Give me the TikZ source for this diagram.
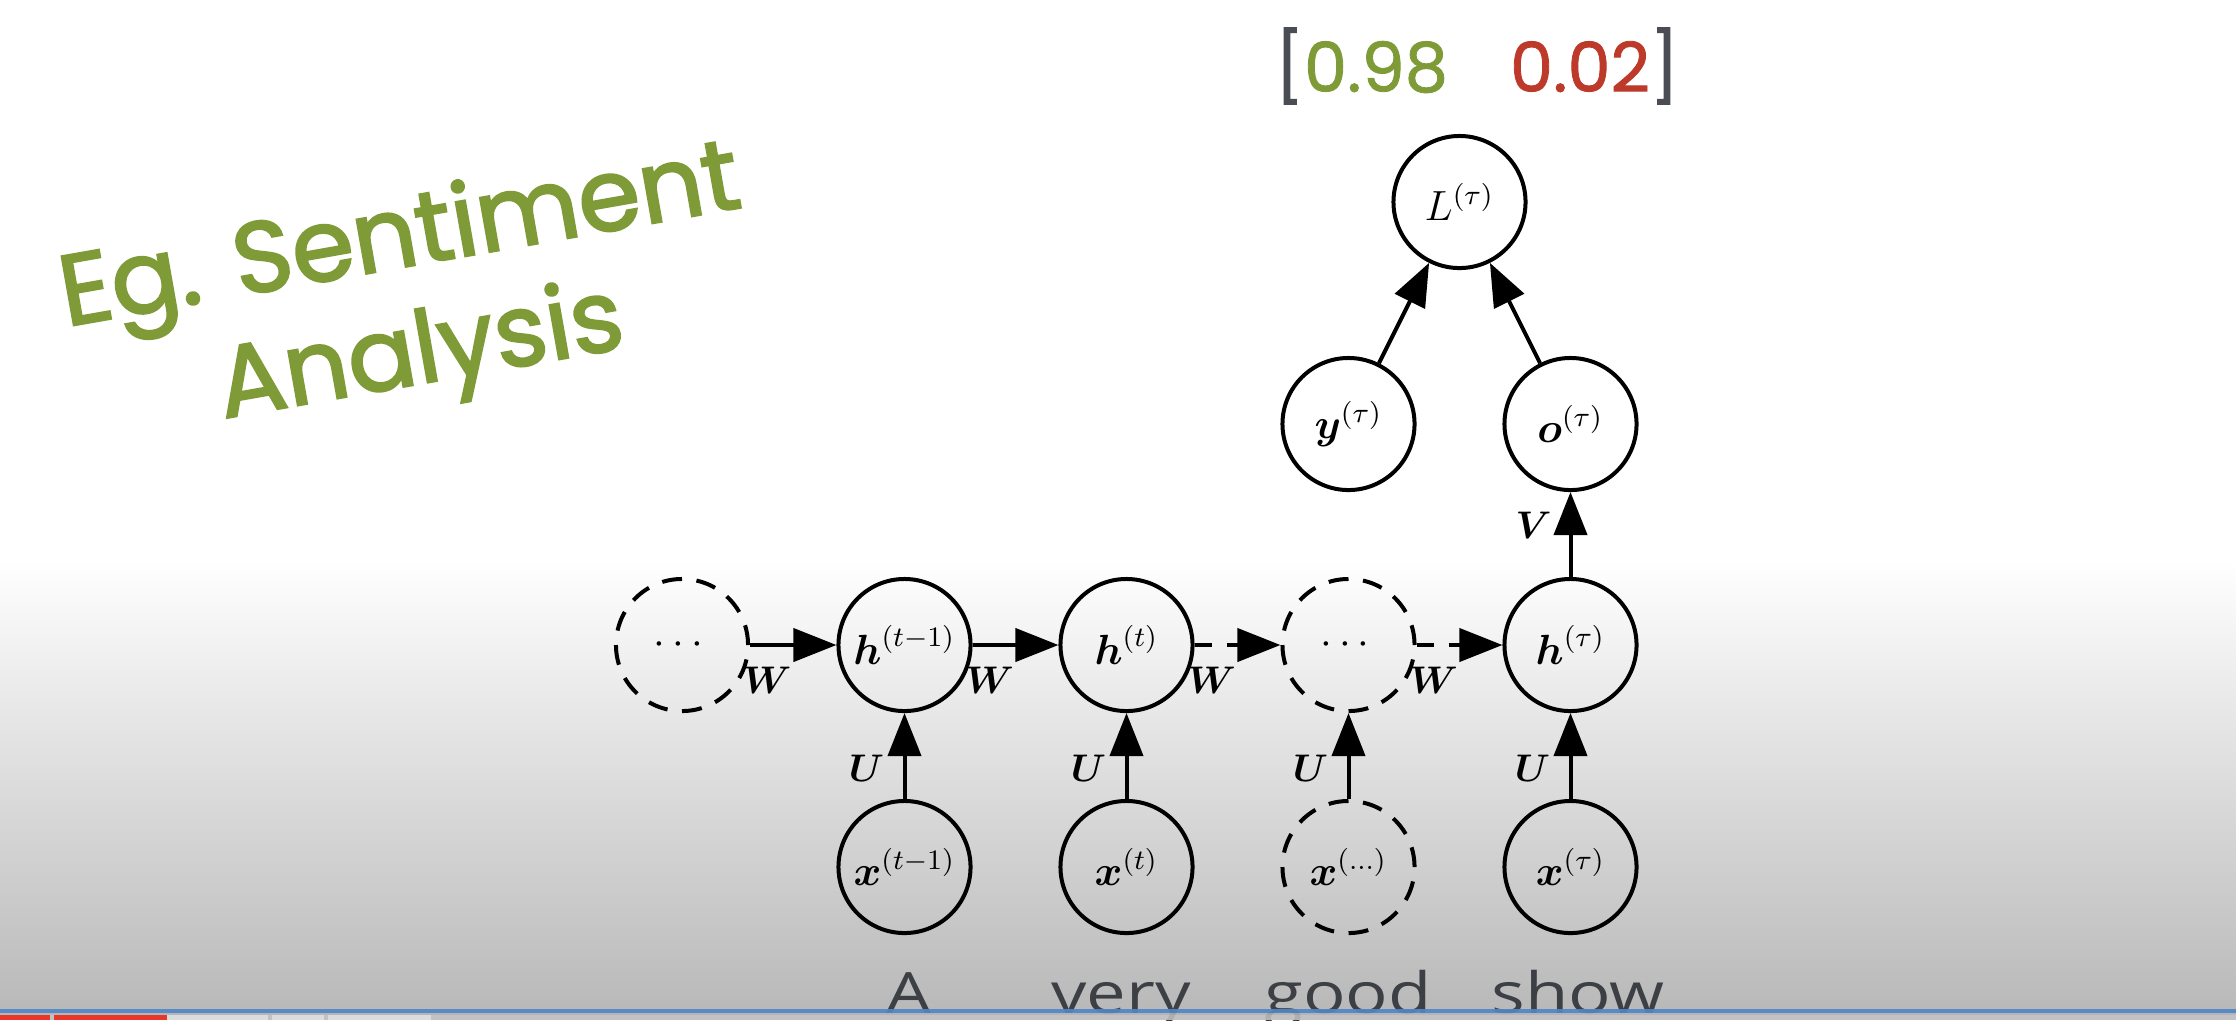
\documentclass[tikz,border=0pt]{standalone}
\usepackage{amsmath}
\usepackage{fontspec}
\newfontfamily\poppfont{Poppins}[FakeBold=2.2]
\newfontfamily\poppnum{Poppins}[FakeBold=1.2]
\newfontfamily\opensfont{Open Sans}
\usetikzlibrary{arrows.meta}
\definecolor{egreen}{HTML}{7E9B38}
\definecolor{ered}{HTML}{BD3A2A}
\definecolor{egray}{HTML}{4A4E54}
\definecolor{wordgray}{HTML}{3C3F44}
\definecolor{bgbot}{HTML}{B9B9B9}
\definecolor{stripblue}{HTML}{5087C7}
\definecolor{stripgray}{HTML}{B5B5B5}
\definecolor{stripbg}{HTML}{C4C4C4}
\definecolor{stripred}{HTML}{E8372A}
\definecolor{striplight}{HTML}{DCDCDC}
\begin{document}
\begin{tikzpicture}[x=0.01cm, y=-0.01cm,
  nd/.style={circle, draw, line width=0.04cm, minimum size=1.32cm, inner sep=0pt,
             font=\fontsize{12}{14}\selectfont},
  dnd/.style={nd, dash pattern=on 0.2cm off 0.1456cm},
  arr/.style={-{Triangle[length=0.43cm,width=0.33cm]}, line width=0.04cm},
  darr/.style={arr, dash pattern=on 0.17cm off 0.15cm},
  lab/.style={font=\fontsize{10.95}{13}\selectfont, inner sep=0pt},
  wlab/.style={lab, pos=0.2, yshift=-0.35cm},
  ulab/.style={lab, pos=0.36, xshift=-0.38cm},
  wordtxt/.style={text=wordgray, font=\opensfont\fontsize{16.2}{18}\selectfont, inner sep=0pt, anchor=base}
]
\useasboundingbox (0,0) rectangle (2236,1020);
% background
\fill[white] (0,0) rectangle (2236,1020);
\shade[top color=white, bottom color=bgbot] (0,560) rectangle (2236,1009);
\fill[bgbot] (0,1009) rectangle (2236,1020);

% title and probabilities
\node[text=egreen, font=\poppfont\fontsize{28.5}{33.5}\selectfont, align=center, rotate=10] (title) at (411,300) {Eg. Sentiment\\Analysis};
\node[font=\poppnum\fontsize{19.5}{22}\selectfont, inner sep=0pt] (probs) at (1477,66)
  {\textcolor{egray}{[}\textcolor{egreen}{0.98}\hspace{0.62cm}\textcolor{ered}{0.02}\textcolor{egray}{]}};

% nodes
\node[dnd] (d1) at (682,645) {$\cdots$};
\node[nd]  (h1) at (904.5,645) {$\boldsymbol{h}^{(t-1)}$};
\node[nd]  (h2) at (1126.5,645) {$\boldsymbol{h}^{(t)}$};
\node[dnd] (d2) at (1348.5,645) {$\cdots$};
\node[nd]  (h3) at (1570.5,645) {$\boldsymbol{h}^{(\tau)}$};
\node[nd]  (x1) at (904.5,867) {$\boldsymbol{x}^{(t-1)}$};
\node[nd]  (x2) at (1126.5,867) {$\boldsymbol{x}^{(t)}$};
\node[dnd] (x3) at (1348.5,867) {$\boldsymbol{x}^{(\ldots)}$};
\node[nd]  (x4) at (1570.5,867) {$\boldsymbol{x}^{(\tau)}$};
\node[nd]  (y)  at (1348.5,424) {$\boldsymbol{y}^{(\tau)}$};
\node[nd]  (o)  at (1570.5,424) {$\boldsymbol{o}^{(\tau)}$};
\node[nd]  (L)  at (1459.5,202) {$L^{(\tau)}$};

% connectors
\draw[arr]  (d1) -- node[wlab] (w1) {$\boldsymbol{W}$} (h1);
\draw[arr]  (h1) -- node[wlab] (w2) {$\boldsymbol{W}$} (h2);
\draw[darr] (h2) -- node[wlab] (w3) {$\boldsymbol{W}$} (d2);
\draw[darr] (d2) -- node[wlab] (w4) {$\boldsymbol{W}$} (h3);
\draw[arr] (x1) -- node[ulab] (u1) {$\boldsymbol{U}$} (h1);
\draw[arr] (x2) -- node[ulab] (u2) {$\boldsymbol{U}$} (h2);
\draw[arr] (x3) -- node[ulab] (u3) {$\boldsymbol{U}$} (d2);
\draw[arr] (x4) -- node[ulab] (u4) {$\boldsymbol{U}$} (h3);
\draw[arr] (h3) -- node[lab, pos=0.61, xshift=-0.37cm] (v1) {$\boldsymbol{V}$} (o);
\draw[arr] (y) -- (L);
\draw[arr] (o) -- (L);

% words
\node[wordtxt] (wA) at (908.5,1013) {\scalebox{1.24}[1]{A}};
\node[wordtxt] (wvery) at (1121,1013) {\scalebox{1.24}[1]{very}};
\node[wordtxt] (wgood) at (1348,1013) {\scalebox{1.24}[1]{good}};
\node[wordtxt] (wshow) at (1578,1013) {\scalebox{1.24}[1]{show}};

% player strip
\fill[stripblue, opacity=0.92] (0,1009) rectangle (2236,1013);
\fill[stripgray, opacity=0.85] (0,1013) rectangle (2236,1015);
\fill[stripbg, opacity=0.85] (0,1015) rectangle (2236,1020);
\fill[stripred] (0,1015) rectangle (50,1020);
\fill[stripred] (54,1015) rectangle (167,1020);
\fill[striplight] (167,1015) rectangle (268,1020);
\fill[striplight] (272,1015) rectangle (324,1020);
\fill[striplight] (328,1015) rectangle (431,1020);
\end{tikzpicture}
\end{document}
